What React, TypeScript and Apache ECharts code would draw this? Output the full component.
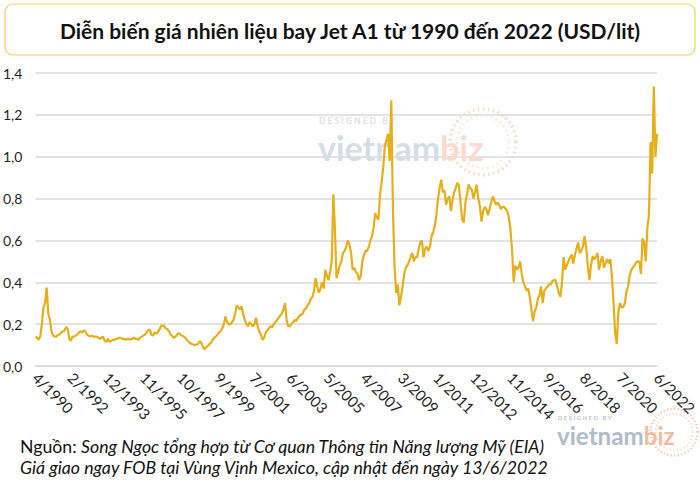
import React, { useEffect, useRef } from "react";
import * as echarts from "echarts";

// Monthly jet fuel prices (USD/lit), 4/1990 .. 6/2022
const prices1990s = [
  0.14, 0.135, 0.125, 0.14, 0.2, 0.28, 0.3, 0.375, 0.25,
  0.22, 0.165, 0.145, 0.14, 0.14, 0.15, 0.15, 0.16, 0.165, 0.17, 0.185, 0.18,
  0.13, 0.12, 0.14, 0.14, 0.145, 0.15, 0.16, 0.165, 0.16, 0.17, 0.165, 0.15,
  0.145, 0.14, 0.145, 0.14, 0.14, 0.14, 0.135, 0.13, 0.135, 0.14, 0.12, 0.115,
  0.13, 0.115, 0.12, 0.125, 0.125, 0.13, 0.13, 0.135, 0.135, 0.13, 0.13, 0.125,
  0.13, 0.13, 0.125, 0.13, 0.135, 0.13, 0.13, 0.125, 0.135, 0.14, 0.145, 0.15,
  0.16, 0.17, 0.175, 0.15, 0.145, 0.16, 0.155, 0.16, 0.175, 0.19, 0.195, 0.19,
  0.18, 0.175, 0.165, 0.15, 0.142, 0.134, 0.14, 0.15, 0.158, 0.15, 0.145, 0.142,
  0.135, 0.125, 0.119, 0.11, 0.105, 0.103, 0.1, 0.103, 0.105, 0.119, 0.11, 0.09,
  0.08, 0.09, 0.095, 0.105, 0.11, 0.125, 0.135, 0.14, 0.15, 0.16, 0.165, 0.18,
];
const prices2000s = [
  0.2, 0.237, 0.21, 0.2, 0.198, 0.21, 0.22, 0.25, 0.29, 0.28, 0.27, 0.285,
  0.25, 0.22, 0.2, 0.19, 0.21, 0.2, 0.19, 0.2, 0.23, 0.19, 0.165, 0.15,
  0.125, 0.135, 0.16, 0.17, 0.18, 0.19, 0.185, 0.2, 0.21, 0.22, 0.23, 0.24,
  0.25, 0.27, 0.3, 0.22, 0.19, 0.19, 0.2, 0.21, 0.22, 0.215, 0.23, 0.24,
  0.245, 0.25, 0.27, 0.275, 0.29, 0.3, 0.32, 0.33, 0.36, 0.42, 0.38, 0.35,
  0.37, 0.4, 0.37, 0.46, 0.43, 0.41, 0.45, 0.5, 0.82, 0.65, 0.42, 0.45,
  0.48, 0.5, 0.54, 0.55, 0.57, 0.6, 0.58, 0.54, 0.46, 0.47, 0.45, 0.44,
  0.41, 0.43, 0.5, 0.53, 0.55, 0.55, 0.57, 0.6, 0.62, 0.66, 0.73, 0.71,
  0.7, 0.82, 0.88, 0.95, 1.05, 1.08, 1.11, 0.98, 1.27, 0.75, 0.48, 0.35,
  0.39, 0.29, 0.33, 0.38, 0.44, 0.47, 0.48, 0.5, 0.52, 0.54, 0.5, 0.52,
];
const prices2010s = [
  0.52, 0.56, 0.59, 0.6, 0.52, 0.56, 0.57, 0.55, 0.57, 0.62, 0.64, 0.67,
  0.72, 0.8, 0.85, 0.89, 0.83, 0.84, 0.77, 0.8, 0.81, 0.74, 0.79, 0.83,
  0.85, 0.875, 0.86, 0.78, 0.7, 0.685, 0.78, 0.82, 0.867, 0.85, 0.843, 0.8,
  0.83, 0.867, 0.8, 0.765, 0.69, 0.74, 0.76, 0.75, 0.72, 0.75, 0.78, 0.81,
  0.79, 0.77, 0.78, 0.77, 0.75, 0.76, 0.76, 0.75, 0.74, 0.71, 0.65, 0.55,
  0.4, 0.48, 0.46, 0.47, 0.5, 0.44, 0.4, 0.38, 0.36, 0.37, 0.33, 0.27,
  0.215, 0.26, 0.28, 0.32, 0.34, 0.38, 0.3, 0.36, 0.37, 0.38, 0.39, 0.39,
  0.405, 0.41, 0.41, 0.38, 0.35, 0.33, 0.4, 0.52, 0.46, 0.48, 0.5, 0.52,
  0.533, 0.49, 0.53, 0.56, 0.59, 0.54, 0.55, 0.57, 0.62, 0.57, 0.48, 0.41,
  0.48, 0.525, 0.51, 0.52, 0.54, 0.46, 0.5, 0.525, 0.47, 0.49, 0.51, 0.49,
];
const prices2020s = [
  0.51, 0.43, 0.3, 0.16, 0.105, 0.26, 0.3, 0.28, 0.28, 0.3, 0.355, 0.38,
  0.43, 0.46, 0.47, 0.48, 0.495, 0.5, 0.5, 0.44, 0.61, 0.59, 0.5, 0.66,
  0.72, 1.07, 0.92, 1.335, 1.0, 1.11,
];

const startYear = 1990;
const startMonth = 4;

const tickLabels = [
  "4/1990", "2/1992", "12/1993", "11/1995", "10/1997", "9/1999", "7/2001",
  "6/2003", "5/2005", "4/2007", "3/2009", "1/2011", "12/2012", "11/2014",
  "9/2016", "8/2018", "7/2020", "6/2022",
];

const titleText = "Diễn biến giá nhiên liệu bay Jet A1 từ 1990 đến 2022 (USD/lit)";
const sourceLabel = "Nguồn: ";
const sourceText = "Song Ngọc tổng hợp từ Cơ quan Thông tin Năng lượng Mỹ (EIA)";
const noteText = "Giá giao ngay FOB tại Vùng Vịnh Mexico, cập nhật đến ngày 13/6/2022";

const prices = [...prices1990s, ...prices2000s, ...prices2010s, ...prices2020s];

function buildCategories(n: number): string[] {
  const out: string[] = [];
  let y = startYear;
  let m = startMonth;
  for (let i = 0; i < n; i++) {
    out.push(`${m}/${y}`);
    m++;
    if (m > 12) {
      m = 1;
      y++;
    }
  }
  return out;
}

const FONT = "Lato, 'Open Sans', sans-serif";

type WmColors = { designed: string; viet: string; biz: string; dots: string; dots2: string };

function watermark(x: number, y: number, s: number, c: WmColors, z: number) {
  return {
    type: "group",
    x,
    y,
    scaleX: s,
    scaleY: s,
    silent: true,
    z,
    children: [
      {
        type: "circle",
        shape: { cx: 165, cy: -4, r: 33 },
        style: { fill: "none", stroke: c.dots, lineWidth: 3.5, lineDash: [1.5, 3.5] },
        z,
      },
      {
        type: "circle",
        shape: { cx: 165, cy: -4, r: 26 },
        style: { fill: "none", stroke: c.dots2, lineWidth: 2.5, lineDash: [1.5, 3.5] },
        z,
      },
      {
        type: "text",
        x: 1,
        y: -25,
        style: {
          text: "D E S I G N E D   B Y",
          font: `bold 8.5px ${FONT}`,
          fill: c.designed,
          textVerticalAlign: "middle",
        },
        z,
      },
      {
        type: "text",
        x: 0,
        y: 1,
        style: {
          text: "{a|vietnam}{b|biz}",
          textVerticalAlign: "middle",
          rich: {
            a: { font: `bold 34px ${FONT}`, fill: c.viet },
            b: { font: `bold 34px ${FONT}`, fill: c.biz },
          },
        },
        z,
      },
    ],
  };
}

export default function App() {
  const ref = useRef<HTMLDivElement>(null);

  useEffect(() => {
    if (!ref.current) return;
    const chart = echarts.init(ref.current, undefined, { renderer: "svg" });
    const categories = buildCategories(prices.length);

    chart.setOption({
      animation: false,
      backgroundColor: "#ffffff",
      grid: { left: 35, right: 42, top: 73, bottom: 123, containLabel: false },
      xAxis: {
        type: "category",
        data: categories,
        boundaryGap: false,
        axisLine: { show: true, lineStyle: { color: "#d9d9d9", width: 1.5 } },
        axisTick: { show: false },
        splitLine: { show: false },
        axisLabel: {
          interval: (_idx: number, value: string) => tickLabels.includes(value),
          rotate: -45,
          margin: 9,
          color: "#1f1f1f",
          fontSize: 15,
          fontFamily: FONT,
        },
        z: 5,
      },
      yAxis: {
        type: "value",
        min: 0,
        max: 1.4,
        interval: 0.2,
        axisLine: { show: false },
        axisTick: { show: false },
        splitLine: { lineStyle: { color: "#d9d9d9", width: 1.5 } },
        axisLabel: {
          margin: 13,
          color: "#1f1f1f",
          fontSize: 14,
          fontFamily: FONT,
          formatter: (v: number) => v.toFixed(1).replace(".", ","),
        },
      },
      series: [
        {
          type: "line",
          data: prices,
          showSymbol: false,
          symbol: "none",
          lineStyle: { color: "#E6AE18", width: 2.2 },
          z: 3,
        },
      ],
      graphic: [
        {
          type: "rect",
          shape: { x: 5, y: 4, width: 690, height: 51, r: 8 },
          style: { fill: "#ffffff", stroke: "#F6CF62", lineWidth: 1.2 },
          z: -1,
        },
        {
          type: "text",
          x: 350,
          y: 30,
          style: {
            text: titleText,
            font: `bold 21px ${FONT}`,
            fill: "#111111",
            textAlign: "center",
            textVerticalAlign: "middle",
          },
        },
        watermark(318, 146, 1, {
          designed: "#dde1e6",
          viet: "#d5dde6",
          biz: "#f9dccf",
          dots: "#f8d6c6",
          dots2: "#fae3d8",
        }, 1),
        watermark(557, 435, 0.71, {
          designed: "#bcc3cb",
          viet: "#aebccb",
          biz: "#f1bc9e",
          dots: "#f2c2a6",
          dots2: "#f5d0ba",
        }, 1),
        {
          type: "text",
          x: 20,
          y: 446,
          style: {
            text: `{n|${sourceLabel}}{i|${sourceText}}`,
            textVerticalAlign: "middle",
            rich: {
              n: { font: `17.7px ${FONT}`, fill: "#111111" },
              i: { font: `italic 17.7px ${FONT}`, fill: "#111111" },
            },
          },
        },
        {
          type: "text",
          x: 20,
          y: 467,
          style: {
            text: noteText,
            font: `italic 17.7px ${FONT}`,
            fill: "#111111",
            textVerticalAlign: "middle",
          },
        },
      ],
    });

    return () => chart.dispose();
  }, []);

  return (
    <div
      ref={ref}
      style={{ position: "fixed", left: 0, top: 0, width: 700, height: 489 }}
    />
  );
}
